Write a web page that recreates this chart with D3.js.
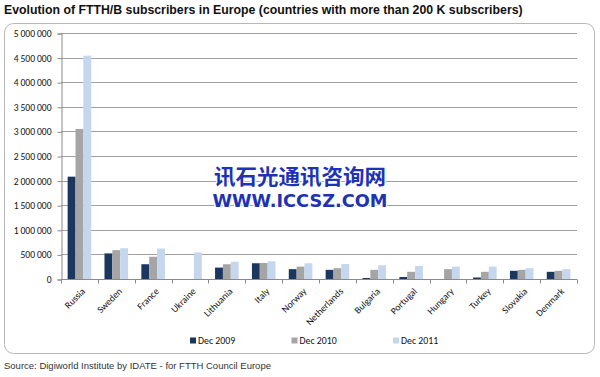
<!DOCTYPE html>
<html>
<head>
<meta charset="utf-8">
<script src="https://cdn.jsdelivr.net/npm/d3@7"></script>
<style>
  body { margin: 0; background: #fff; }
  svg { display: block; }
</style>
</head>
<body>
<svg id="chart" width="600" height="377"></svg>
<script>
// countries, left to right
const countries = ["Russia", "Sweden", "France", "Ukraine", "Lithuania", "Italy", "Norway",
  "Netherlands", "Bulgaria", "Portugal", "Hungary", "Turkey", "Slovakia", "Denmark"];

// subscribers (0 = no bar)
const dec2009 = [2080000, 520000, 300000, 0, 232000, 320000, 200000,
  186000, 20000, 40000, 0, 30000, 166000, 146000];
const dec2010 = [3050000, 586000, 452000, 0, 300000, 326000, 252000,
  220000, 186000, 146000, 200000, 146000, 186000, 166000];
const dec2011 = [4540000, 626000, 620000, 540000, 352000, 360000, 320000,
  306000, 280000, 266000, 252000, 252000, 220000, 200000];

const seriesNames = ["Dec 2009", "Dec 2010", "Dec 2011"];
const seriesColors = ["#1b365f", "#a5a5a5", "#c5d7ee"];
const yTicks = d3.range(0, 5000001, 500000);

const svg = d3.select("#chart");

// title
svg.append("text")
  .attr("x", 4).attr("y", 14)
  .attr("font-family", "Arial, 'Liberation Sans', sans-serif")
  .attr("font-weight", "bold")
  .attr("font-size", 12.3)
  .attr("fill", "#111")
  .text("Evolution of FTTH/B subscribers in Europe (countries with more than 200 K subscribers)");

// frame
svg.append("rect")
  .attr("x", 4.5).attr("y", 23.5)
  .attr("width", 590).attr("height", 330)
  .attr("rx", 9)
  .attr("fill", "#fff")
  .attr("stroke", "#b8b8b8");

const plotL = 61, plotR = 577, plotT = 33, plotB = 279;

const x = d3.scaleBand()
  .domain(countries)
  .range([plotL, plotR])
  .paddingInner(0.36)
  .paddingOuter(0.18);

const xs = d3.scaleBand()
  .domain(seriesNames)
  .range([0, x.bandwidth()]);

const y = d3.scaleLinear()
  .domain([0, 5000000])
  .range([plotB, plotT]);

const fmt = v => d3.format(",")(v).replace(/,/g, "\u2009");

// grid
svg.append("g")
  .selectAll("line")
  .data(yTicks.slice(1))
  .join("line")
  .attr("x1", plotL).attr("x2", plotR)
  .attr("y1", d => Math.round(y(d)) + 0.5).attr("y2", d => Math.round(y(d)) + 0.5)
  .attr("stroke", "#a0a0a0");

// y axis
const yAxis = svg.append("g")
  .attr("transform", `translate(${plotL + 0.5},0.5)`)
  .call(d3.axisLeft(y).tickValues(yTicks).tickFormat(fmt).tickSize(4).tickPadding(6));
yAxis.select(".domain").attr("stroke", "#8a8a8a");
yAxis.selectAll(".tick line").attr("stroke", "#8a8a8a");
yAxis.selectAll("text")
  .attr("font-family", "Carlito, Calibri, 'Liberation Sans', sans-serif")
  .attr("font-size", 9.6)
  .attr("fill", "#111");

// bars
const rows = countries.map((c, i) => ({country: c, values: [dec2009[i], dec2010[i], dec2011[i]]}));

svg.append("g")
  .selectAll("g")
  .data(rows)
  .join("g")
  .attr("transform", d => `translate(${x(d.country)},0)`)
  .selectAll("rect")
  .data(d => d.values.map((v, k) => ({name: seriesNames[k], color: seriesColors[k], value: v})))
  .join("rect")
  .attr("x", d => xs(d.name))
  .attr("width", xs.bandwidth())
  .attr("y", d => y(d.value))
  .attr("height", d => y(0) - y(d.value))
  .attr("fill", d => d.color);

// x axis: ticks between categories
const xAxis = svg.append("g").attr("transform", `translate(0,${plotB + 0.5})`);
xAxis.append("line")
  .attr("x1", plotL).attr("x2", plotR)
  .attr("stroke", "#8a8a8a");
xAxis.selectAll("line.tk")
  .data(d3.range(countries.length + 1))
  .join("line")
  .attr("class", "tk")
  .attr("x1", i => Math.round(plotL + i * (plotR - plotL) / countries.length) + 0.5)
  .attr("x2", i => Math.round(plotL + i * (plotR - plotL) / countries.length) + 0.5)
  .attr("y1", 0).attr("y2", 4)
  .attr("stroke", "#8a8a8a");
xAxis.selectAll("text")
  .data(countries)
  .join("text")
  .attr("transform", d => `translate(${x(d) + x.bandwidth() / 2 + 4},${10}) rotate(-45)`)
  .attr("text-anchor", "end")
  .attr("dy", "0.35em")
  .attr("font-family", "Carlito, Calibri, 'Liberation Sans', sans-serif")
  .attr("font-size", 9.6)
  .attr("fill", "#111")
  .text(d => d);

// legend
const legend = svg.append("g")
  .selectAll("g")
  .data(seriesNames)
  .join("g")
  .attr("transform", (d, i) => `translate(${190 + i * 101.5},341)`);
legend.append("rect")
  .attr("x", 0).attr("y", -3.5)
  .attr("width", 6).attr("height", 6)
  .attr("fill", (d, i) => seriesColors[i]);
legend.append("text")
  .attr("x", 8).attr("dy", "0.35em")
  .attr("font-family", "Carlito, Calibri, 'Liberation Sans', sans-serif")
  .attr("font-size", 9.8)
  .attr("fill", "#111")
  .text(d => d);

// watermark
const wm = svg.append("g")
  .attr("fill", "#1d32b5")
  .attr("stroke", "#fff")
  .attr("stroke-width", 2.5)
  .attr("paint-order", "stroke")
  .attr("font-weight", "bold");
wm.append("text")
  .attr("x", 300).attr("y", 184)
  .attr("text-anchor", "middle")
  .attr("font-family", "'Noto Sans CJK SC', sans-serif")
  .attr("font-size", 21)
  .attr("textLength", 172)
  .attr("lengthAdjust", "spacingAndGlyphs")
  .text("讯石光通讯咨询网");
wm.append("text")
  .attr("x", 300).attr("y", 207)
  .attr("text-anchor", "middle")
  .attr("font-family", "'DejaVu Sans', sans-serif")
  .attr("font-size", 17)
  .attr("textLength", 175)
  .attr("lengthAdjust", "spacingAndGlyphs")
  .text("WWW.ICCSZ.COM");

// source
svg.append("text")
  .attr("x", 4).attr("y", 369)
  .attr("font-family", "Arial, 'Liberation Sans', sans-serif")
  .attr("font-size", 9.5)
  .attr("fill", "#333")
  .text("Source: Digiworld Institute by IDATE - for FTTH Council Europe");
</script>
</body>
</html>
